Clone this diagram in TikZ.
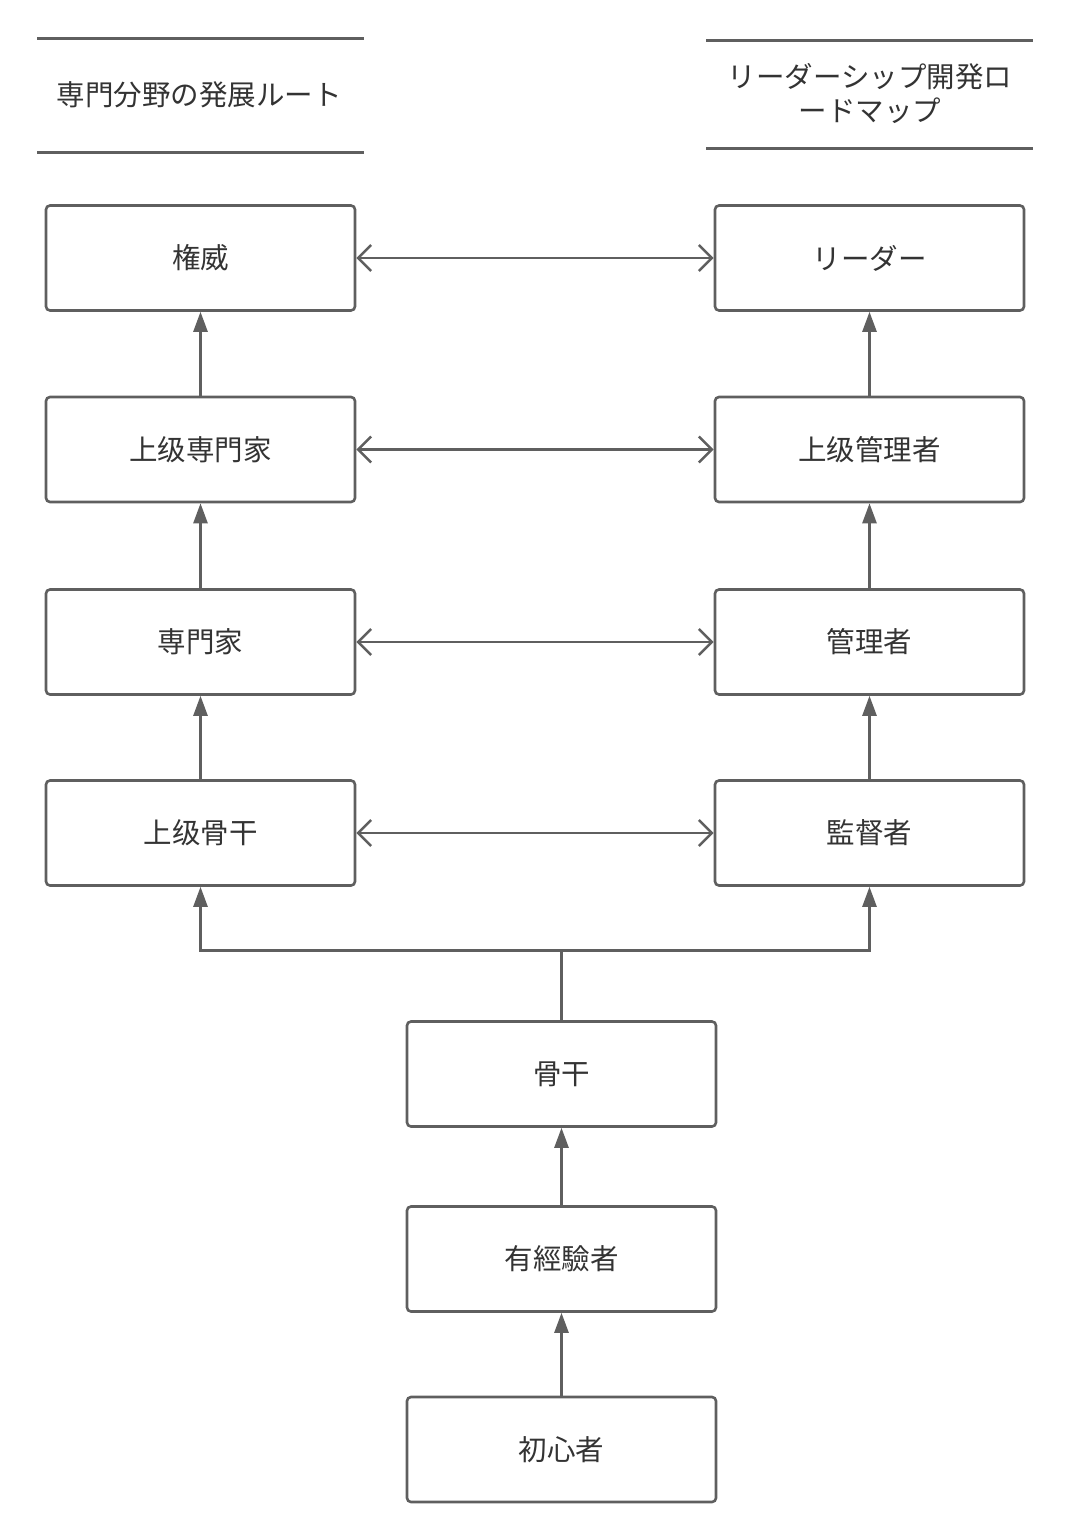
\documentclass[tikz,border=0pt]{standalone}
\usepackage{fontspec}
\setmainfont{Noto Sans CJK JP}
\usetikzlibrary{arrows.meta}
\definecolor{ln}{HTML}{5F5F5F}
\definecolor{tx}{HTML}{333333}
\begin{document}
\begin{tikzpicture}[x=1pt,y=-1pt,
  box/.style={draw=ln,line width=2.6pt,rounded corners=4pt,minimum width=309pt,minimum height=105pt,inner sep=0pt,text=tx,font=\fontsize{28.5}{34}\selectfont},
  hdr/.style={text=tx,font=\fontsize{28.5}{34}\selectfont,align=center},
  hline/.style={draw=ln,line width=3pt},
  up/.style={draw=ln,line width=2.6pt,-{Triangle[length=20pt,width=14pt]}},
  both/.style={draw=ln,line width=2.6pt,{Straight Barb[length=13pt,width=26pt,line width=2.6pt]}-{Straight Barb[length=13pt,width=26pt,line width=2.6pt]}},
  conn/.style={draw=ln,line width=2.6pt}]
\useasboundingbox (0,0) rectangle (1070,1539);
% headers
\draw[hline] (37,38) -- (364,38);
\draw[hline] (37,152) -- (364,152);
\node[hdr] (hl) at (199,95) {専門分野の発展ルート};
\draw[hline] (706,40) -- (1033,40);
\draw[hline] (706,148) -- (1033,148);
\node[hdr] (hr) at (870,94) {リーダーシップ開発ロ\\ードマップ};
% left column
\node[box] (l1) at (200.5,258) {権威};
\node[box] (l2) at (200.5,449.5) {上级専門家};
\node[box] (l3) at (200.5,642) {専門家};
\node[box] (l4) at (200.5,833) {上级骨干};
% right column
\node[box] (r1) at (869.5,258) {リーダー};
\node[box] (r2) at (869.5,449.5) {上级管理者};
\node[box] (r3) at (869.5,642) {管理者};
\node[box] (r4) at (869.5,833) {監督者};
% middle
\node[box] (m1) at (561.5,1074) {骨干};
\node[box] (m2) at (561.5,1259) {有經驗者};
\node[box] (m3) at (561.5,1449.5) {初心者};
% vertical arrows
\draw[up] (l2.north) -- (l1.south);
\draw[up] (l3.north) -- (l2.south);
\draw[up] (l4.north) -- (l3.south);
\draw[up] (r2.north) -- (r1.south);
\draw[up] (r3.north) -- (r2.south);
\draw[up] (r4.north) -- (r3.south);
\draw[up] (m3.north) -- (m2.south);
\draw[up] (m2.north) -- (m1.south);
% split
\path (m1.north) ++(0,-69.5) coordinate (j);
\draw[conn] (m1.north) -- (j);
\draw[up] (j) -| (l4.south);
\draw[up] (j) -| (r4.south);
% horizontal double arrows
\draw[both] (l1.east) -- (r1.west);
\draw[both] (l2.east) -- (r2.west);
\draw[both] (l3.east) -- (r3.west);
\draw[both] (l4.east) -- (r4.west);
\end{tikzpicture}
\end{document}
